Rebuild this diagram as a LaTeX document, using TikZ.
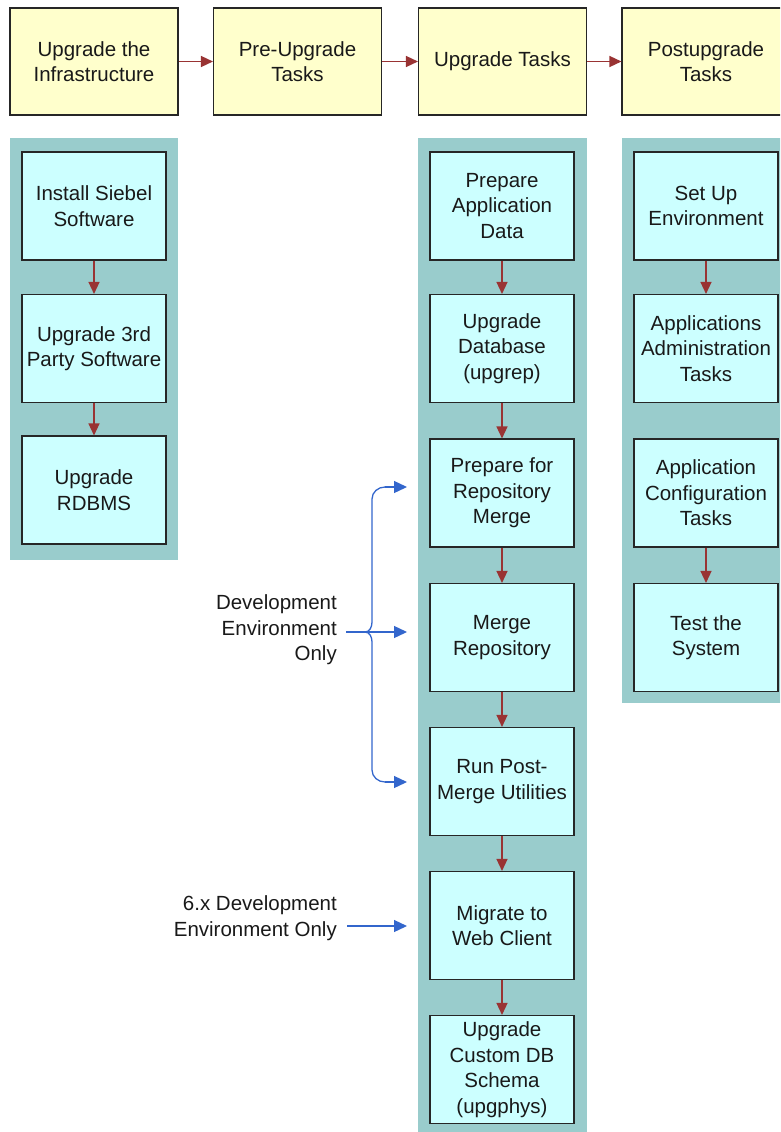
\documentclass[tikz,border=0pt]{standalone}
\usepackage{fontspec}
\setmainfont{Liberation Sans}
\usetikzlibrary{arrows.meta}
\definecolor{phasefill}{HTML}{FFFFCC}
\definecolor{lanefill}{HTML}{99CCCC}
\definecolor{taskfill}{HTML}{CCFFFF}
\definecolor{flowred}{HTML}{993333}
\definecolor{noteblue}{HTML}{3366CC}
\tikzset{
  every node/.style={font=\fontsize{20.5}{25.5}\selectfont, text=black!90},
  phase/.style={draw=black!85, line width=1.1pt, fill=phasefill, minimum width=168pt, minimum height=107pt, align=center, inner sep=2pt},
  task/.style={draw=black!85, line width=1.1pt, fill=taskfill, minimum width=144pt, minimum height=108pt, align=center, inner sep=2pt},
  lane/.style={fill=lanefill, draw=none},
  flow/.style={draw=flowred, line width=1.4pt, -{Triangle[length=12pt,width=11pt]}},
  note/.style={draw=noteblue, line width=1.3pt},
  notearrow/.style={note, -{Triangle[length=13pt,width=12pt]}},
  label/.style={align=right, anchor=east, inner sep=0pt}
}
\begin{document}
\begin{tikzpicture}[x=1pt, y=-1pt]
\useasboundingbox (0,0) rectangle (780,1132);
\clip (0,0) rectangle (780,1132);

% swim lanes behind the task boxes
\fill[lane] (10,138) rectangle (178,560);
\fill[lane] (418,138) rectangle (587,1140);
\fill[lane] (622,138) rectangle (790,703);

% phases
\node[phase] (p1) at (94,61.5) {Upgrade the\\Infrastructure};
\node[phase] (p2) at (297.5,61.5) {Pre-Upgrade\\Tasks};
\node[phase] (p3) at (502.5,61.5) {Upgrade Tasks};
\node[phase] (p4) at (706,61.5) {Postupgrade\\Tasks};

\draw[flow] (p1) -- (p2);
\draw[flow] (p2) -- (p3);
\draw[flow] (p3) -- (p4);

% infrastructure tasks
\node[task] (l1) at (94,206) {Install Siebel\\Software};
\node[task] (l2) at (94,348.5) {Upgrade 3rd\\Party Software};
\node[task] (l3) at (94,490) {Upgrade\\RDBMS};
\draw[flow] (l1) -- (l2);
\draw[flow] (l2) -- (l3);

% upgrade tasks
\node[task] (m1) at (502,206) {Prepare\\Application\\Data};
\node[task] (m2) at (502,348.5) {Upgrade\\Database\\(upgrep)};
\node[task] (m3) at (502,493) {Prepare for\\Repository\\Merge};
\node[task] (m4) at (502,637.5) {Merge\\Repository};
\node[task] (m5) at (502,781.5) {Run Post-\\Merge Utilities};
\node[task] (m6) at (502,925.5) {Migrate to\\Web Client};
\node[task] (m7) at (502,1069.5) {Upgrade\\Custom DB\\Schema\\(upgphys)};
\draw[flow] (m1) -- (m2);
\draw[flow] (m2) -- (m3);
\draw[flow] (m3) -- (m4);
\draw[flow] (m4) -- (m5);
\draw[flow] (m5) -- (m6);
\draw[flow] (m6) -- (m7);

% postupgrade tasks
\node[task] (r1) at (706,206) {Set Up\\Environment};
\node[task] (r2) at (706,348.5) {Applications\\Administration\\Tasks};
\node[task] (r3) at (706,493) {Application\\Configuration\\Tasks};
\node[task] (r4) at (706,637.5) {Test the\\System};
\draw[flow] (r1) -- (r2);
\draw[flow] (r3) -- (r4);

% notes on the upgrade steps
\node[label] (dev) at (337,630) {Development\\Environment\\Only};
\node[label] (six) at (337,918) {6.x Development\\Environment Only};

\coordinate (cusp) at (365,632);
\coordinate (tipA) at (407,487);
\coordinate (tipB) at (407,632);
\coordinate (tipC) at (407,782);
\coordinate (startB) at (346,632);
\coordinate (startS) at (347,926);
\coordinate (tipS) at (407,926);

% brace grouping the three development-only steps
\draw[note] (cusp) to[out=0,in=270] (372,622) -- (372,499)
  to[out=90,in=180] (385,487);
\draw[note] (cusp) to[out=0,in=90] (372,642) -- (372,770)
  to[out=270,in=180] (385,782);
\draw[notearrow] (385,487) -- (tipA);
\draw[notearrow] (385,782) -- (tipC);
\draw[notearrow] (startB) -- (tipB);
\draw[notearrow] (startS) -- (tipS);
\end{tikzpicture}
\end{document}
